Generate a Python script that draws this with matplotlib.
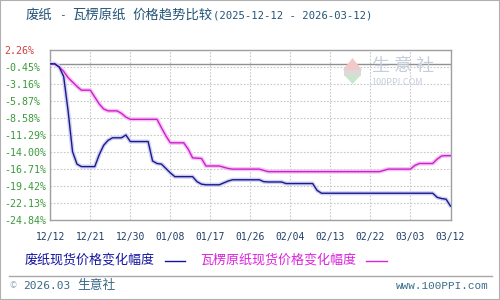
import matplotlib
matplotlib.use("Agg")
import matplotlib.pyplot as plt
from matplotlib.lines import Line2D
from matplotlib.patches import Rectangle, Polygon

plt.rcParams['font.family'] = ['Noto Sans CJK SC', 'DejaVu Sans']

# ---- data ----
title_parts = ["废纸", "-", "瓦楞原纸", "价格趋势比较", "(2025-12-12 - 2026-03-12)"]
x_labels = ["12/12", "12/21", "12/30", "01/08", "01/17", "01/26",
            "02/04", "02/13", "02/22", "03/03", "03/12"]
y_ticks = [2.26, -0.45, -3.16, -5.87, -8.58, -11.29, -14.00,
           -16.71, -19.42, -22.13, -24.84]
y_labels = ["2.26%", "-0.45%", "-3.16%", "-5.87%", "-8.58%", "-11.29%",
            "-14.00%", "-16.71%", "-19.42%", "-22.13%", "-24.84%"]
series1_name = "废纸现货价格变化幅度"
series2_name = "瓦楞原纸现货价格变化幅度"

# daily values, day 0 = 2025-12-12 ... day 90 = 2026-03-12
waste_paper = [
    0, 0, -0.5, -2.0, -7.5, -14.0, -16.0, -16.4, -16.4, -16.4,
    -16.4, -14.5, -13.0, -12.2, -11.8, -11.8, -11.8, -11.35, -12.4, -12.4,
    -12.4, -12.4, -12.4, -15.5, -15.9, -16.0, -16.7, -17.4, -18.0, -18.0,
    -18.0, -18.0, -18.0, -18.8, -19.2, -19.3, -19.3, -19.3, -19.3, -19.0,
    -18.7, -18.5, -18.5, -18.5, -18.5, -18.5, -18.5, -18.5, -18.8, -18.85,
    -18.85, -18.85, -18.85, -19.1, -19.1, -19.1, -19.1, -19.1, -19.1, -19.1,
    -20.2, -20.65, -20.65, -20.65, -20.65, -20.65, -20.65, -20.65, -20.65, -20.65,
    -20.65, -20.65, -20.65, -20.65, -20.65, -20.65, -20.65, -20.65, -20.65, -20.65,
    -20.65, -20.65, -20.65, -20.65, -20.65, -20.65, -20.65, -21.3, -21.5, -21.6,
    -22.7,
]
corrugated = [
    0, 0, -0.5, -1.2, -2.2, -2.9, -3.6, -4.2, -4.2, -4.2,
    -5.3, -6.4, -7.2, -7.5, -7.5, -7.5, -7.9, -8.5, -8.85, -8.85,
    -8.85, -8.85, -8.85, -8.85, -8.85, -10.2, -11.5, -12.6, -12.6, -12.6,
    -12.6, -13.6, -15.0, -15.05, -15.1, -16.3, -16.3, -16.3, -16.3, -16.5,
    -16.7, -16.8, -16.8, -16.8, -16.8, -16.8, -16.8, -16.8, -17.0, -17.2,
    -17.2, -17.2, -17.2, -17.2, -17.2, -17.2, -17.2, -17.2, -17.2, -17.2,
    -17.2, -17.2, -17.2, -17.2, -17.2, -17.2, -17.2, -17.2, -17.2, -17.2,
    -17.2, -17.2, -17.2, -17.2, -17.2, -17.0, -16.8, -16.8, -16.8, -16.8,
    -16.8, -16.8, -16.2, -15.9, -15.9, -15.9, -15.9, -15.2, -14.7, -14.65,
    -14.65,
]
days = list(range(len(waste_paper)))
x_tick_pos = [i * 9 for i in range(len(x_labels))]

# ---- figure ----
W, H = 500, 300
fig = plt.figure(figsize=(5, 3), dpi=100)
fig.patch.set_facecolor("white")

def fx(px):
    return px / W

def fy(py):
    return 1 - py / H

left, right, top, bottom = 50.3, 450.5, 49.7, 219.5
ax = fig.add_axes([fx(left), fy(bottom), (right - left) / W, (bottom - top) / H])
ax.set_xlim(0, 90)
ax.set_ylim(-24.84, 2.26)

# ticks & grid
ax.set_xticks(x_tick_pos)
ax.set_xticklabels(x_labels, family="DejaVu Sans Mono", fontsize=7, color="#1f3d66")
ax.set_yticks(y_ticks)
ax.set_yticklabels(y_labels, family="DejaVu Sans Mono", fontsize=7.2)
for lbl, v in zip(ax.get_yticklabels(), y_ticks):
    lbl.set_horizontalalignment("left")
    lbl.set_color("#d04040" if v > 0 else "#3a9a3a")
ax.tick_params(axis="y", length=0, pad=33)
ax.tick_params(axis="x", length=0, pad=9)
ax.grid(True, color="#c8c8c8", linestyle=(0, (1.5, 1.5)), linewidth=0.8)
for s in ax.spines.values():
    s.set_color("#a0a0a0")
    s.set_linewidth(1.0)
ax.axhline(0, color="#909090", linewidth=1.0, zorder=2)

# watermark
fig.text(fx(372), fy(66), "生 意 社", fontsize=13, color="#c6cedb", ha="left", va="center")
fig.text(fx(371), fy(83), "100PPI.COM", fontsize=6.5, color="#c6cedb", ha="left", va="center")
fig.patches.append(Polygon([(fx(343), fy(70)), (fx(352.5), fy(58)), (fx(362), fy(70))],
                           closed=True, transform=fig.transFigure, facecolor="#f2c8c8",
                           edgecolor="none"))
fig.patches.append(Rectangle((fx(344), fy(76)), fx(17), fy(70) - fy(76),
                             transform=fig.transFigure, facecolor="#dadada", edgecolor="none"))
fig.patches.append(Polygon([(fx(345), fy(76)), (fx(352.5), fy(84)), (fx(360), fy(76))],
                           closed=True, transform=fig.transFigure, facecolor="#c8e6c8",
                           edgecolor="none"))

# lines with soft halos
ax.plot(days, corrugated, color="#f4c4f4", linewidth=3.0, zorder=3,
        solid_capstyle="round")
ax.plot(days, corrugated, color="#cc22cc", linewidth=1.0, zorder=4)
ax.plot(days, waste_paper, color="#d0d0f4", linewidth=3.0, zorder=3,
        solid_capstyle="round")
ax.plot(days, waste_paper, color="#1a1a8c", linewidth=1.0, zorder=5)

# title (CJK full-width + ASCII half-width pieces)
tcol = "#245577"
ty = fy(15)
fig.text(fx(25), ty, title_parts[0], fontsize=9.6, color=tcol, ha="left", va="center")
fig.text(fx(62), ty, title_parts[1], family="DejaVu Sans Mono", fontsize=8,
         color=tcol, ha="center", va="center")
fig.text(fx(72), ty, title_parts[2], fontsize=9.6, color=tcol, ha="left", va="center")
fig.text(fx(132), ty, title_parts[3], fontsize=9.6, color=tcol, ha="left", va="center")
fig.text(fx(213), ty, title_parts[4], family="DejaVu Sans Mono", fontsize=7.7,
         color=tcol, ha="left", va="center")

# legend
fig.text(fx(25), fy(260), series1_name, fontsize=9.4, color="#1414a0", ha="left", va="center")
fig.add_artist(Line2D([fx(165), fx(185)], [fy(260.5), fy(260.5)], color="#1414a0", linewidth=1.0))
fig.text(fx(200), fy(260), series2_name, fontsize=9.4, color="#dd22dd", ha="left", va="center")
fig.add_artist(Line2D([fx(366), fx(387)], [fy(260.5), fy(260.5)], color="#dd22dd", linewidth=1.0))

# footer
fcol = "#3a6a88"
fig.add_artist(Line2D([fx(9), fx(492)], [fy(276), fy(276)], color="#a8a8a8", linewidth=1.0))
fig.text(fx(9), fy(286), "©", fontsize=6, color="#9aa8b8", ha="left", va="center")
fig.text(fx(23), fy(286), "2026.03", family="DejaVu Sans Mono", fontsize=8,
         color=fcol, ha="left", va="center")
fig.text(fx(77), fy(286), "生意社", fontsize=9.2, color=fcol, ha="left", va="center")
fig.text(fx(489), fy(286), "www.100PPI.com", family="Liberation Mono", fontsize=7.9,
         color=fcol, ha="right", va="center")

# outer frame
fig.patches.append(Rectangle((0, 0), 1, 1, transform=fig.transFigure, fill=False,
                             edgecolor="#b0b0b0", linewidth=1.5))

fig.savefig("out.png", dpi=100)
